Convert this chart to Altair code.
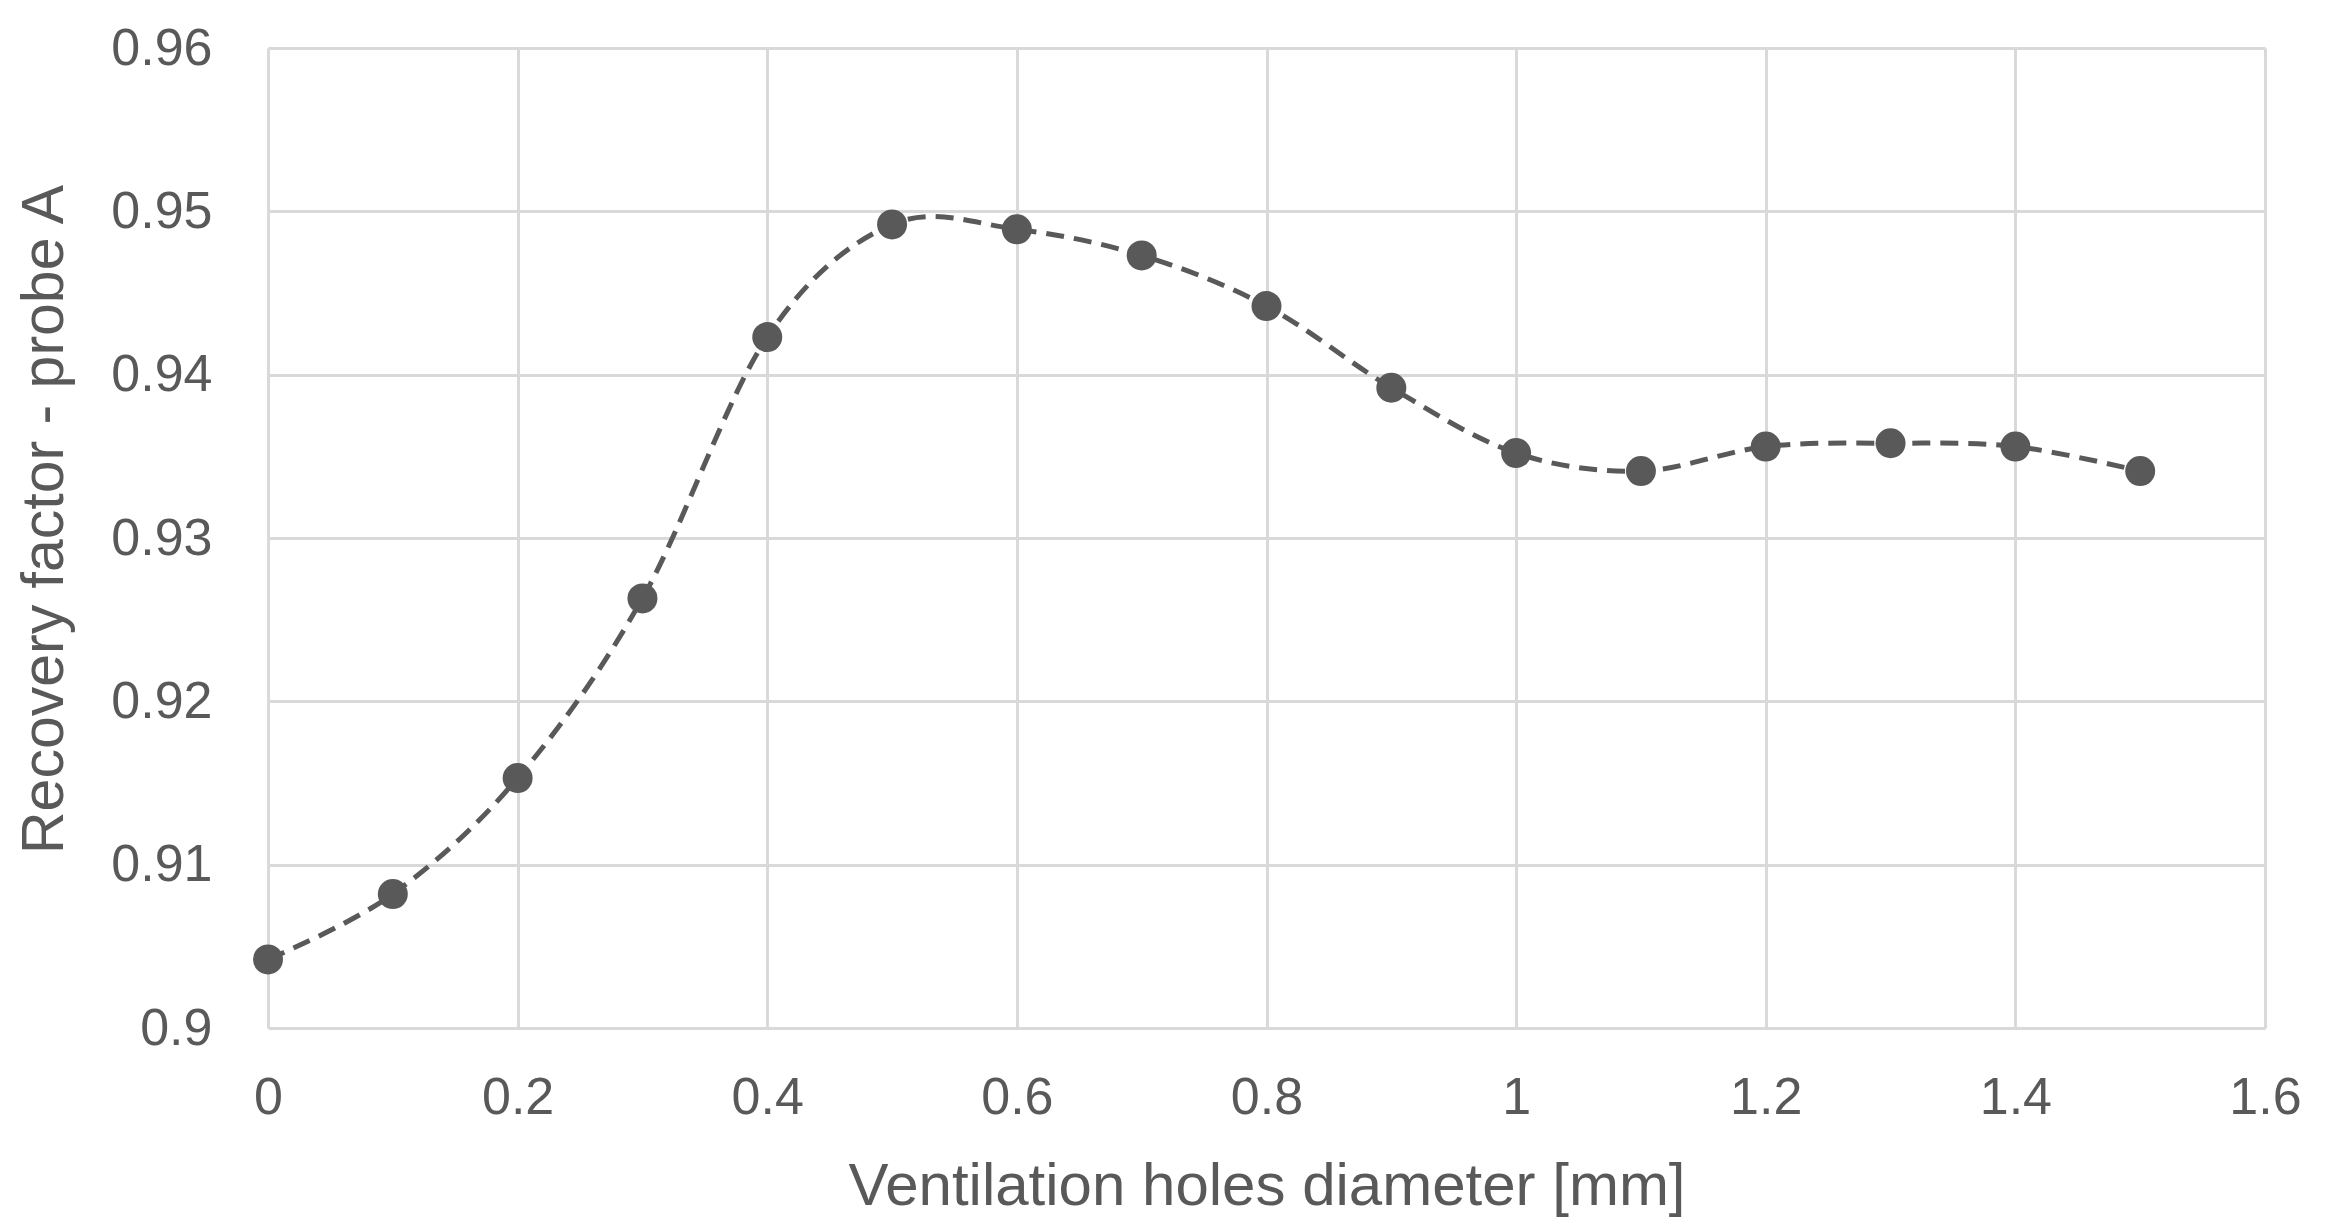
import altair as alt
import pandas as pd

# Data

diameter_mm = [0.0, 0.1, 0.2, 0.3, 0.4, 0.5, 0.6, 0.7,
               0.8, 0.9, 1.0, 1.1, 1.2, 1.3, 1.4, 1.5]
recovery_factor = [0.9042, 0.9082, 0.9153, 0.9263, 0.9423, 0.9492, 0.9489, 0.9473,
                   0.9442, 0.9392, 0.9352, 0.9341, 0.9356, 0.9358, 0.9356, 0.9341]

x_ticks = [0, 0.2, 0.4, 0.6, 0.8, 1.0, 1.2, 1.4, 1.6]
y_ticks = [0.90, 0.91, 0.92, 0.93, 0.94, 0.95, 0.96]

GREY = '#595959'
GRID = '#d9d9d9'
FONT = 'Liberation Sans'

df = pd.DataFrame({'d': diameter_mm, 'rf': recovery_factor})

x = alt.X(
  'd:Q', title='Ventilation holes diameter [mm]',
  scale=alt.Scale(domain=[0, 1.6], nice=False, zero=False),
  axis=alt.Axis(
    values=x_ticks, labelExpr="format(datum.value, '.1~f')",
    grid=True, gridColor=GRID, gridWidth=3,
    domain=False, ticks=False, labelFlush=False,
    labelFontSize=52, labelPadding=44, labelColor=GREY, labelFont=FONT,
    titleFontSize=60, titleColor=GREY, titleFont=FONT, titleFontWeight='normal',
    titleBaseline='alphabetic', titleY=176
  )
)
y = alt.Y(
  'rf:Q', title='Recovery factor - probe A',
  scale=alt.Scale(domain=[0.9, 0.96], nice=False, zero=False),
  axis=alt.Axis(
    values=y_ticks, labelExpr="format(datum.value, '.2~f')",
    grid=True, gridColor=GRID, gridWidth=3,
    domain=False, ticks=False, labelFlush=False,
    labelFontSize=52, labelPadding=56, labelColor=GREY, labelFont=FONT,
    titleFontSize=59, titleColor=GREY, titleFont=FONT, titleFontWeight='normal',
    titleBaseline='alphabetic', titleX=-206, titleY=471
  )
)

base = alt.Chart(df).encode(x=x, y=y)

line = base.mark_line(
  interpolate='cardinal', color=GREY, strokeWidth=5, strokeDash=[18, 10]
)
points = base.mark_point(
  filled=True, shape='circle', size=900, color=GREY, opacity=1
)

chart = alt.layer(line, points).properties(
  width=1997, height=980,
  autosize=alt.AutoSizeParams(type='none'),
  padding={'left': 260, 'top': 40, 'right': 53, 'bottom': 195}
).configure_view(
  stroke=None
)

chart.save("out.html", embed_options={"renderer": "svg", "actions": False})
